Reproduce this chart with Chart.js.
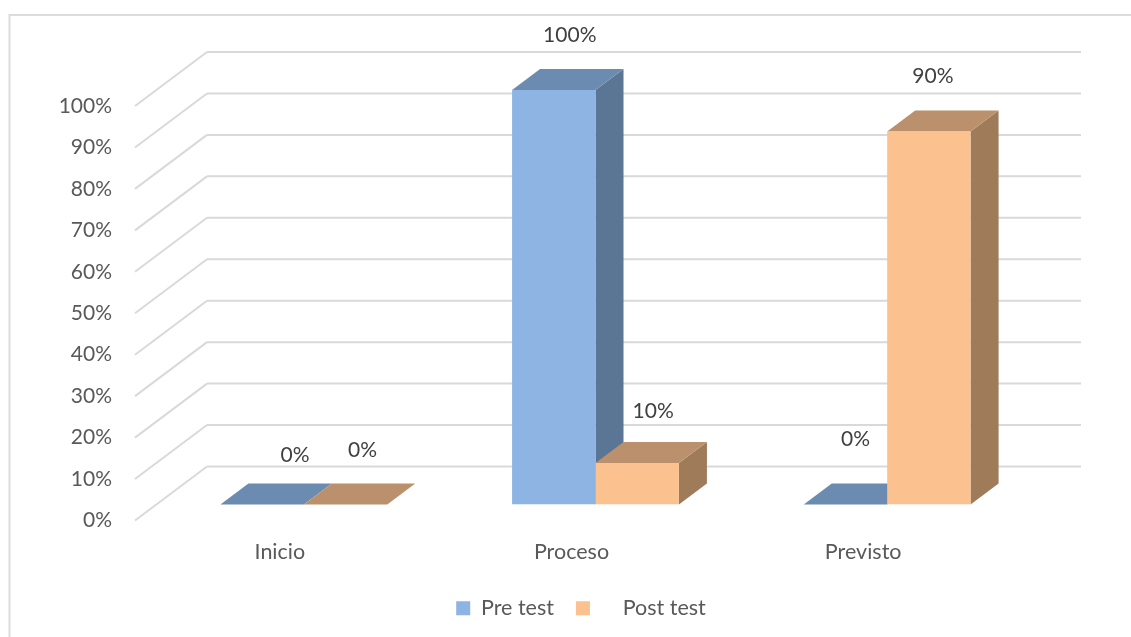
<!DOCTYPE html>
<html>
<head>
<meta charset="utf-8">
<title>Pre test / Post test</title>
<script src="https://cdn.jsdelivr.net/npm/chart.js@4"></script>
<style>
  html, body { margin: 0; padding: 0; background: #fff; }
  #wrap { position: relative; width: 1131px; height: 637px; }
</style>
</head>
<body>
<div id="wrap"><canvas id="chart"></canvas></div>
<script>
const categories = ["Inicio", "Proceso", "Previsto"];
const seriesNames = ["Pre test", "Post test"];
const preTest = [0, 1, 0];
const postTest = [0, 0.1, 0.9];
const tickStep = 0.1;

const FONT = "Lato, Carlito, Calibri, sans-serif";
// front face, top face, side face
const blueFaces = ["#8db4e3", "#6c8bb0", "#5b7595"];
const orangeFaces = ["#fbc28f", "#bb906c", "#9f7b5a"];
// the 3D box depth, and how far the back wall sits behind the bars
const depthX = 28, depthY = 21;
const wallX = 49, wallY = 38;
const floorX = 23, floorY = 16;

// hand placed data labels in the reference, [dataset][category] => [dx, dy]
const labelNudge = [
  [[33, -49], [16, -55], [10, -65]],
  [[17, -54], [16, -52], [4, -55]]
];

function line(ctx, x1, y1, x2, y2) {
  ctx.beginPath();
  ctx.moveTo(x1, y1);
  ctx.lineTo(x2, y2);
  ctx.stroke();
}

function poly(ctx, pts, color) {
  ctx.fillStyle = color;
  ctx.beginPath();
  pts.forEach((p, i) => i ? ctx.lineTo(p[0], p[1]) : ctx.moveTo(p[0], p[1]));
  ctx.closePath();
  ctx.fill();
}

const box3d = {
  id: "box3d",
  afterLayout(chart) {
    // tick labels get clipped to the axis box, so let it reach further left
    chart.scales.y.left = 40;
  },
  beforeDraw(chart) {
    const ctx = chart.ctx;
    const { left, right } = chart.chartArea;
    const y = chart.scales.y;

    ctx.save();
    // outer frame, open on the right
    ctx.strokeStyle = "#dcdcdc";
    ctx.lineWidth = 2;
    ctx.beginPath();
    ctx.moveTo(9.5, 637);
    ctx.lineTo(9.5, 15);
    ctx.lineTo(1131, 15);
    ctx.stroke();

    // back wall lines and the left wall diagonals
    ctx.strokeStyle = "#d9d9d9";
    y.ticks.forEach(t => {
      const py = y.getPixelForValue(t.value);
      line(ctx, left + wallX, py - wallY, right + wallX - 1, py - wallY);
      line(ctx, left + wallX, py - wallY, left - floorX, py + floorY);
    });
    ctx.restore();
  },
  beforeDatasetsDraw(chart) {
    const ctx = chart.ctx;
    const base = chart.scales.y.getPixelForValue(0);
    [blueFaces, orangeFaces].forEach((faces, d) => {
      chart.getDatasetMeta(d).data.forEach(bar => {
        const l = bar.x - bar.width / 2, r = bar.x + bar.width / 2, t = bar.y;
        poly(ctx, [[r, t], [r + depthX, t - depthY], [r + depthX, base - depthY], [r, base]], faces[2]);
        poly(ctx, [[l, t], [l + depthX, t - depthY], [r + depthX, t - depthY], [r, t]], faces[1]);
      });
    });
  },
  afterDatasetsDraw(chart) {
    const ctx = chart.ctx;
    ctx.save();
    ctx.font = "21px " + FONT;
    ctx.fillStyle = "#404040";
    ctx.textAlign = "center";
    ctx.textBaseline = "middle";
    [preTest, postTest].forEach((vals, d) => {
      chart.getDatasetMeta(d).data.forEach((bar, i) => {
        const [dx, dy] = labelNudge[d][i];
        ctx.fillText(Math.round(vals[i] * 100) + "%", bar.x + dx, bar.y + dy);
      });
    });
    ctx.restore();
  }
};

new Chart(document.getElementById("chart"), {
  type: "bar",
  data: {
    labels: categories,
    datasets: [
      { label: seriesNames[0], data: preTest, backgroundColor: blueFaces[0] },
      { label: seriesNames[1], data: postTest, backgroundColor: orangeFaces[0] }
    ]
  },
  options: {
    responsive: true,
    maintainAspectRatio: false,
    animation: false,
    categoryPercentage: 0.572,
    barPercentage: 1,
    layout: { padding: { left: 129, right: 98, top: 90, bottom: 8 } },
    plugins: {
      tooltip: { enabled: false },
      legend: {
        position: "bottom",
        labels: {
          font: { family: FONT, size: 21.5 },
          color: "#595959",
          boxWidth: 14,
          boxHeight: 14,
          padding: 0,
          generateLabels(chart) {
            const items = Chart.defaults.plugins.legend.labels.generateLabels(chart);
            items[0].text = items[0].text + "    ";
            items[1].text = "    " + items[1].text;
            items.forEach(it => { it.lineWidth = 0; });
            return items;
          }
        }
      }
    },
    scales: {
      x: {
        grid: { display: false },
        border: { display: false },
        afterFit(s) { s.height = 93; },
        ticks: {
          font: { family: FONT, size: 21.5 },
          color: "#595959",
          labelOffset: -24,
          padding: 27,
          maxRotation: 0
        }
      },
      y: {
        min: 0,
        max: 1,
        grid: { display: false },
        border: { display: false },
        afterFit(s) { s.width = 29; },
        ticks: {
          stepSize: tickStep,
          font: { family: FONT, size: 21 },
          color: "#595959",
          labelOffset: 16,
          padding: 38,
          callback: v => Math.round(v * 100) + "%"
        }
      }
    }
  },
  plugins: [box3d]
});
</script>
</body>
</html>
